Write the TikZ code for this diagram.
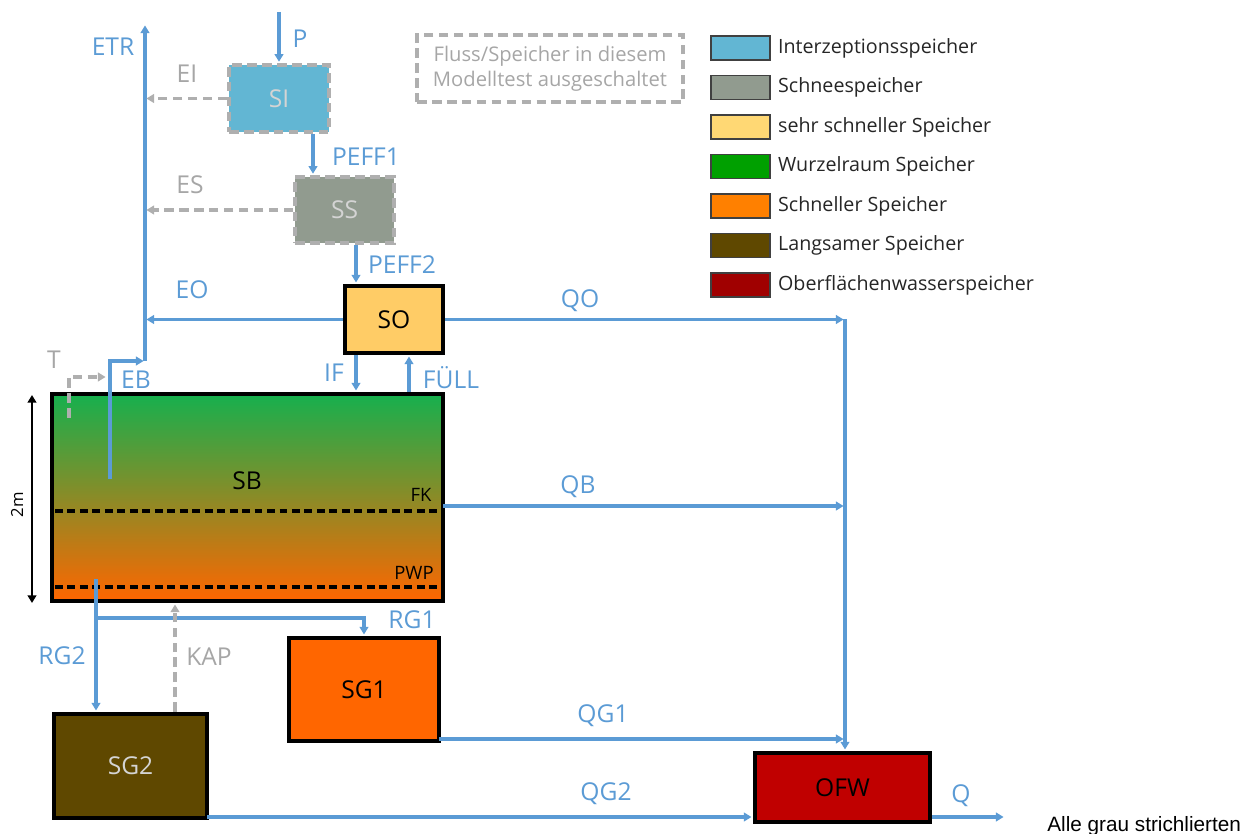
\documentclass[tikz,border=0pt]{standalone}
\usepackage{fontspec}
\setmainfont{Open Sans}
\newfontfamily\arialfont{Liberation Sans}
\usetikzlibrary{positioning, calc, arrows.meta}

\definecolor{flussblau}{HTML}{5B9BD5}
\definecolor{ausgrau}{HTML}{AFAFAF}
\definecolor{textgrau}{HTML}{A6A6A6}
\definecolor{hellgrau}{HTML}{D4D4D4}
\definecolor{interz}{HTML}{62B6D3}
\definecolor{schnee}{HTML}{919B8F}
\definecolor{sehrschnell}{HTML}{FFCC66}
\definecolor{legsehrschnell}{HTML}{FFD874}
\definecolor{wurzel}{HTML}{00A000}
\definecolor{legschnell}{HTML}{FF8000}
\definecolor{schnell}{HTML}{FF6600}
\definecolor{langsam}{HTML}{5F4800}
\definecolor{ofw}{HTML}{C00000}
\definecolor{legofw}{HTML}{A00000}
\definecolor{bodengruen}{HTML}{16B04E}

\begin{document}
\begin{tikzpicture}[x=0.02cm, y=-0.02cm, >={Triangle[length=4.4pt,width=5pt]},
    fluss/.style={->, flussblau, line width=2pt, shorten >=0.8pt},
    aus/.style={->, ausgrau, line width=2.1pt, dash pattern=on 5.5pt off 3pt, shorten >=0.8pt},
    flusslabel/.style={flussblau, font=\fontsize{14}{16}\selectfont, inner sep=0pt},
    auslabel/.style={textgrau, font=\fontsize{14}{16}\selectfont, inner sep=0pt},
    speicher/.style={draw=black, line width=2.4pt, font=\fontsize{14}{16}\selectfont, inner sep=0pt},
    ausspeicher/.style={draw=ausgrau, line width=2.1pt, dash pattern=on 5.5pt off 3pt, text=hellgrau, font=\fontsize{14}{16}\selectfont, inner sep=0pt},
    grenze/.style={black, line width=2.1pt, dash pattern=on 4.5pt off 2.6pt},
    legfeld/.style={draw=black!75, line width=0.9pt, minimum width=1.18cm, minimum height=0.48cm},
    legtext/.style={anchor=west, inner sep=0pt, font=\fontsize{11.2}{13}\selectfont, text=black!85},
]
    % Rahmen
    \useasboundingbox (0,0) rectangle (1248,834);

    % Speicher
    \node[ausspeicher, fill=interz, minimum width=2cm, minimum height=1.34cm] (SI) at (279,98.5) {SI};
    \node[ausspeicher, fill=schnee, minimum width=1.98cm, minimum height=1.32cm] (SS) at (344.5,210) {SS};
    \node[speicher, fill=sehrschnell, minimum width=1.96cm, minimum height=1.34cm] (SO) at (394,319.5) {SO};
    \node[speicher, top color=bodengruen, bottom color=schnell, minimum width=7.82cm, minimum height=4.14cm] (SB) at (247.5,497.5) {};
    \node[speicher, fill=schnell, minimum width=3cm, minimum height=2.06cm] (SG1) at (364,689.5) {SG1};
    \node[speicher, fill=langsam, text=hellgrau, minimum width=3.06cm, minimum height=2.08cm] (SG2) at (130.5,766) {SG2};
    \node[speicher, fill=ofw, minimum width=3.5cm, minimum height=1.38cm] (OFW) at (842.5,787.5) {OFW};

    % Bodenspeicher innen
    \node[font=\fontsize{14}{16}\selectfont, inner sep=0pt] (SBtext) at (247,481) {SB};
    \draw[grenze] (55,511) -- (440,511);
    \draw[grenze] (55,587) -- (440,587);
    \node[font=\fontsize{10.5}{12}\selectfont, inner sep=0pt] (FK) at (421,495) {FK};
    \node[font=\fontsize{10.5}{12}\selectfont, inner sep=0pt] (PWP) at (414,573) {PWP};

    % Tiefe
    \coordinate (massoben) at (32,395);
    \coordinate (massunten) at (32,603);
    \draw[<->, black, line width=1.6pt] (massoben) -- (massunten);
    \node[rotate=90, font=\fontsize{9.5}{11}\selectfont, inner sep=0pt] (tiefe) at (17,505) {2m};

    % Verdunstung
    \coordinate (etrfuss) at (145,361);
    \coordinate (etrspitze) at (145,24);
    \draw[fluss] (etrfuss) -- (etrspitze);
    \node[flusslabel] (ETR) at (113,47) {ETR};
    \draw[aus] (SI.west) -- (SI.west -| etrfuss);
    \node[auslabel] (EI) at (187,74) {EI};
    \draw[aus] (SS.west) -- (SS.west -| etrfuss);
    \node[auslabel] (ES) at (190,185) {ES};
    \draw[fluss] (SO.west) -- (SO.west -| etrfuss);
    \node[flusslabel] (EO) at (192,290) {EO};
    \coordinate (ebstart) at (110,479);
    \draw[fluss] (ebstart) |- (etrfuss);
    \node[flusslabel] (EB) at (136,380) {EB};
    \coordinate (tstart) at (69,418);
    \coordinate (tziel) at (107,377);
    \draw[aus] (tstart) |- (tziel);
    \node[auslabel] (T) at (54,360) {T};

    % Niederschlag
    \coordinate (pquelle) at (279,12);
    \draw[fluss] (pquelle) -- (SI.north);
    \node[flusslabel] (P) at (300,39) {P};
    \coordinate (peffa) at (313,0);
    \draw[fluss] (SI.south -| peffa) -- (SS.north -| peffa);
    \node[flusslabel] (PEFF1) at (366,157) {PEFF1};
    \coordinate (peffb) at (356,0);
    \draw[fluss] (SS.south -| peffb) -- (SO.north -| peffb);
    \node[flusslabel] (PEFF2) at (402,265) {PEFF2};

    % Austausch SO - SB
    \draw[fluss] (SO.south -| peffb) -- (SB.north -| peffb);
    \node[flusslabel] (IF) at (334,373) {IF};
    \coordinate (fuellx) at (409,0);
    \draw[fluss] (SB.north -| fuellx) -- (SO.south -| fuellx);
    \node[flusslabel] (FUELL) at (451,378) {FÜLL};

    % Abfluss
    \coordinate (sammel) at (845,0);
    \draw[fluss] (SO.east) -- (SO.east -| sammel);
    \node[flusslabel] (QO) at (580,301) {QO};
    \draw[fluss] (SO.east -| sammel) -- (OFW.north -| sammel);
    \coordinate (qbstart) at (443,506);
    \draw[fluss] (qbstart) -- (qbstart -| sammel);
    \node[flusslabel] (QB) at (578,487) {QB};
    \coordinate (qgastart) at (439,739);
    \draw[fluss] (qgastart) -- (qgastart -| sammel);
    \node[flusslabel] (QG1) at (603,716) {QG1};
    \coordinate (qgbstart) at (207,817);
    \draw[fluss] (qgbstart) -- (qgbstart -| OFW.west);
    \node[flusslabel] (QG2) at (606,794) {QG2};
    \coordinate (qende) at (1005,817);
    \draw[fluss] (qende -| OFW.east) -- (qende);
    \node[flusslabel] (Q) at (961,796) {Q};

    % Grundwasser
    \coordinate (rgstart) at (96,579);
    \coordinate (rgknick) at (96,618);
    \draw[fluss] (rgstart) -- (SG2.north -| rgstart);
    \node[flusslabel] (RG2) at (62,656) {RG2};
    \draw[fluss] (rgknick) -| (SG1.north);
    \node[flusslabel] (RG1) at (412,620) {RG1};
    \coordinate (kapx) at (175,0);
    \draw[aus] (SG2.north -| kapx) -- (SB.south -| kapx);
    \node[auslabel] (KAP) at (209,657) {KAP};

    % Hinweis
    \node[draw=ausgrau, line width=2.1pt, dash pattern=on 5.5pt off 3pt, minimum width=5.32cm, minimum height=1.34cm,
          align=center, text=textgrau, font=\fontsize{11.5}{14.2}\selectfont] (hinweis) at (550,68.5)
          {Fluss/Speicher in diesem\\Modelltest ausgeschaltet};

    % Legende
    \foreach \farbe/\bez [count=\i] in {interz/Interzeptionsspeicher, schnee/Schneespeicher,
        legsehrschnell/sehr schneller Speicher, wurzel/Wurzelraum Speicher, legschnell/Schneller Speicher,
        langsam/Langsamer Speicher, legofw/Oberflächenwasserspeicher} {
        \node[legfeld, fill=\farbe] (leg\i) at (740.5, {48+39.5*(\i-1)}) {};
        \node[legtext, right=0.14cm of leg\i] (legtxt\i) {\bez};
    }

    % Fussnote
    \node[anchor=base west, inner sep=0pt, font=\arialfont\fontsize{11.8}{14}\selectfont] (fussnote) at (1047,831) {Alle grau strichlierten};

\end{tikzpicture}
\end{document}
